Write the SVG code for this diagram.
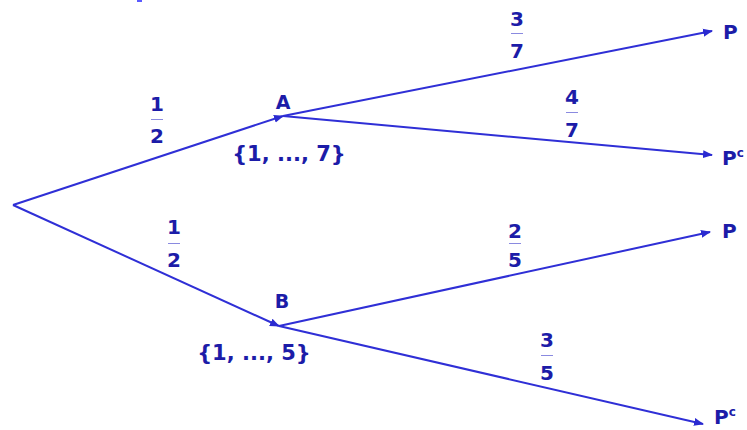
<svg xmlns="http://www.w3.org/2000/svg" width="747" height="430" viewBox="0 0 747 430">
<defs>
<marker id="ah" viewBox="0 0 10 10" refX="9" refY="5" markerWidth="5" markerHeight="5" orient="auto" markerUnits="strokeWidth">
<path d="M0,1 L10,5 L0,9 z" fill="#2a2ad0"/>
</marker>
<style>
.e{stroke:#2f2fd6;stroke-width:2;fill:none;marker-end:url(#ah)}
.t{font-family:"DejaVu Sans",sans-serif;font-weight:bold;font-size:20px;fill:#1c1ca8;text-anchor:middle}
.m{font-family:"DejaVu Sans",sans-serif;font-weight:bold;font-size:21px;fill:#1c1ca8;text-anchor:middle}
.s{font-family:"DejaVu Sans",sans-serif;font-weight:bold;font-size:19px;fill:#1c1ca8;text-anchor:middle}
.p{font-family:"DejaVu Sans",sans-serif;font-weight:bold;font-size:20px;fill:#1c1ca8}
.b{stroke:#8a8ae0;stroke-width:1}
</style>
</defs>
<rect width="747" height="430" fill="#ffffff"/>
<rect x="137" y="0" width="5" height="2" fill="#5a5aff"/>
<g id="connectors">
<line class="e" x1="13" y1="205" x2="283" y2="116"/>
<line class="e" x1="13" y1="205" x2="279" y2="326"/>
<line class="e" x1="283" y1="116" x2="712" y2="31"/>
<line class="e" x1="283" y1="116" x2="712" y2="155"/>
<line class="e" x1="279" y1="326" x2="710" y2="232"/>
<line class="e" x1="279" y1="326" x2="703" y2="424"/>
</g>
<g id="nodeA">
<text class="s" x="283" y="109">A</text>
<text class="m" x="289" y="161">{1, ..., 7}</text>
</g>
<g id="nodeB">
<text class="s" x="282" y="308">B</text>
<text class="m" x="254" y="360">{1, ..., 5}</text>
</g>
<g id="nodeP1"><text class="p" x="723" y="39">P</text></g>
<g id="nodePc1"><text class="p" x="722" y="165">P<tspan font-size="12" dy="-8">c</tspan></text></g>
<g id="nodeP2"><text class="p" x="722" y="238">P</text></g>
<g id="nodePc2"><text class="p" x="714" y="424">P<tspan font-size="12" dy="-8">c</tspan></text></g>
<g id="labels">
<text class="t" x="157" y="111">1</text><line class="b" x1="151" y1="119.5" x2="163" y2="119.5"/><text class="t" x="157" y="143">2</text>
<text class="t" x="174" y="234">1</text><line class="b" x1="168" y1="243.5" x2="180" y2="243.5"/><text class="t" x="174" y="267">2</text>
<text class="t" x="517" y="26">3</text><line class="b" x1="511" y1="33.5" x2="523" y2="33.5"/><text class="t" x="517" y="58">7</text>
<text class="t" x="572" y="104">4</text><line class="b" x1="566" y1="112.5" x2="578" y2="112.5"/><text class="t" x="572" y="137">7</text>
<text class="t" x="515" y="238">2</text><line class="b" x1="509" y1="243.5" x2="521" y2="243.5"/><text class="t" x="515" y="267">5</text>
<text class="t" x="547" y="347">3</text><line class="b" x1="541" y1="355.5" x2="553" y2="355.5"/><text class="t" x="547" y="380">5</text>
</g>
</svg>
